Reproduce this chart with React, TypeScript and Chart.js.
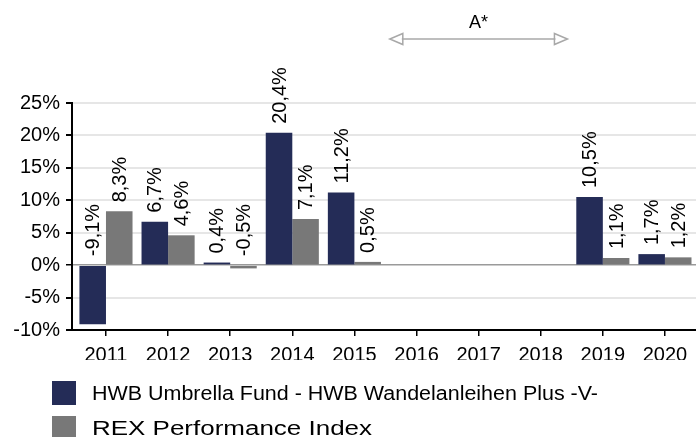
import React, { useEffect, useRef } from "react";
import { Chart, registerables } from "chart.js";

Chart.register(...registerables);

const years = ["2011", "2012", "2013", "2014", "2015", "2016", "2017", "2018", "2019", "2020"];
const fundValues: (number | null)[] = [-9.1, 6.7, 0.4, 20.4, 11.2, null, null, null, 10.5, 1.7];
const indexValues: (number | null)[] = [8.3, 4.6, -0.5, 7.1, 0.5, null, null, null, 1.1, 1.2];
const seriesNames = ["HWB Umbrella Fund - HWB Wandelanleihen Plus -V-", "REX Performance Index"];
const yTicks = [-10, -5, 0, 5, 10, 15, 20, 25];
const annotationText = "A*";

const NAVY = "#242C57";
const GREY = "#787878";
const FONT = "'Liberation Sans', Arial, sans-serif";
const legendWidths = [506, 280];

const fmt = (v: number) => v.toFixed(1).replace(".", ",") + "%";

const customPlugin = {
  id: "custom",
  afterDatasetsDraw(chart: any) {
    const ctx = chart.ctx;
    const yScale = chart.scales.y;
    const xScale = chart.scales.x;
    const zero = yScale.getPixelForValue(0);
    ctx.save();
    ctx.font = `20px ${FONT}`;
    ctx.fillStyle = "#000";
    ctx.textAlign = "left";
    ctx.textBaseline = "middle";
    chart.data.datasets.forEach((ds: any, di: number) => {
      const meta = chart.getDatasetMeta(di);
      meta.data.forEach((el: any, i: number) => {
        const v = ds.data[i]?.y;
        if (v === null || v === undefined) return;
        const top = Math.min(el.y, zero);
        ctx.save();
        ctx.translate(el.x, top - 9);
        ctx.rotate(-Math.PI / 2);
        ctx.fillText(fmt(v), 0, 1);
        ctx.restore();
      });
    });
    // arrow annotation
    const x1 = xScale.getPixelForValue(4.57);
    const x2 = xScale.getPixelForValue(7.43);
    const ay = 39;
    ctx.strokeStyle = "#a8a8a8";
    ctx.lineWidth = 1.5;
    ctx.beginPath();
    ctx.moveTo(x1 + 12, ay);
    ctx.lineTo(x2 - 12, ay);
    ctx.stroke();
    ctx.beginPath();
    ctx.moveTo(x1 + 13, ay - 5.5);
    ctx.lineTo(x1, ay);
    ctx.lineTo(x1 + 13, ay + 5.5);
    ctx.closePath();
    ctx.stroke();
    ctx.beginPath();
    ctx.moveTo(x2 - 13, ay - 5.5);
    ctx.lineTo(x2, ay);
    ctx.lineTo(x2 - 13, ay + 5.5);
    ctx.closePath();
    ctx.stroke();
    ctx.font = `18px ${FONT}`;
    ctx.textAlign = "center";
    ctx.fillStyle = "#000";
    ctx.fillText(annotationText, (x1 + x2) / 2, 23);
    // legend
    const colors = [NAVY, GREY];
    ctx.textAlign = "left";
    ctx.font = `20px ${FONT}`;
    seriesNames.forEach((name, i) => {
      const sy = 381 + i * 35;
      ctx.fillStyle = colors[i];
      ctx.fillRect(52, sy, 24, 24);
      ctx.fillStyle = "#000";
      const w = ctx.measureText(name).width;
      const sx = legendWidths[i] / w;
      ctx.save();
      ctx.translate(92, sy + 13);
      ctx.scale(sx, 1);
      ctx.fillText(name, 0, 0);
      ctx.restore();
    });
    ctx.restore();
  },
};

export default function App() {
  const ref = useRef<HTMLCanvasElement>(null);
  useEffect(() => {
    if (!ref.current) return;
    const chart = new Chart(ref.current, {
      type: "bar",
      data: {
        datasets: [
          {
            label: seriesNames[0],
            data: fundValues.map((v, i) => ({ x: i, y: v })) as any,
            backgroundColor: NAVY,
            barPercentage: 1,
            categoryPercentage: 0.855,
          },
          {
            label: seriesNames[1],
            data: indexValues.map((v, i) => ({ x: i, y: v })) as any,
            backgroundColor: GREY,
            barPercentage: 1,
            categoryPercentage: 0.855,
          },
        ],
      },
      options: {
        animation: false,
        responsive: false,
        maintainAspectRatio: false,
        layout: { padding: { top: 103, bottom: 77, left: 0, right: 0 } },
        plugins: { legend: { display: false }, tooltip: { enabled: false } },
        scales: {
          x: {
            type: "linear",
            offset: false,
            min: -0.547,
            max: 9.5,
            afterBuildTicks: (scale: any) => {
              scale.ticks = years.map((_, i) => ({ value: i }));
            },
            afterFit: (scale: any) => {
              scale.height = 30;
            },
            ticks: {
              callback: (v: any) => years[v] ?? "",
              color: "#000",
              font: { size: 20, family: FONT },
              padding: 7,
              maxRotation: 0,
              autoSkip: false,
            },
            grid: { display: true, offset: false, drawOnChartArea: false, tickLength: 6, color: "#000", lineWidth: 1.5 },
            border: { display: true, color: "#000", width: 2 },
          },
          y: {
            min: -10,
            max: 25,
            afterBuildTicks: (scale: any) => {
              scale.ticks = yTicks.map((v) => ({ value: v }));
            },
            afterFit: (scale: any) => {
              scale.width = 72;
            },
            ticks: {
              callback: (v: any) => v + "%",
              color: "#000",
              font: { size: 20, family: FONT },
              padding: 6,
            },
            grid: {
              color: (c: any) => (c.tick && c.tick.value === 0 ? "#9a9a9a" : "#e6e6e6"),
              lineWidth: (c: any) => (c.tick && c.tick.value === 0 ? 1.5 : 2),
              tickColor: "#000",
              tickLength: 6,
            },
            border: { display: true, color: "#000", width: 2 },
          },
        },
      },
      plugins: [customPlugin],
    });
    return () => chart.destroy();
  }, []);
  return (
    <div style={{ position: "fixed", left: 0, top: 0, width: 696, height: 437, background: "#fff", overflow: "hidden" }}>
      <canvas ref={ref} width={696} height={437} style={{ width: 696, height: 437 }} />
    </div>
  );
}
